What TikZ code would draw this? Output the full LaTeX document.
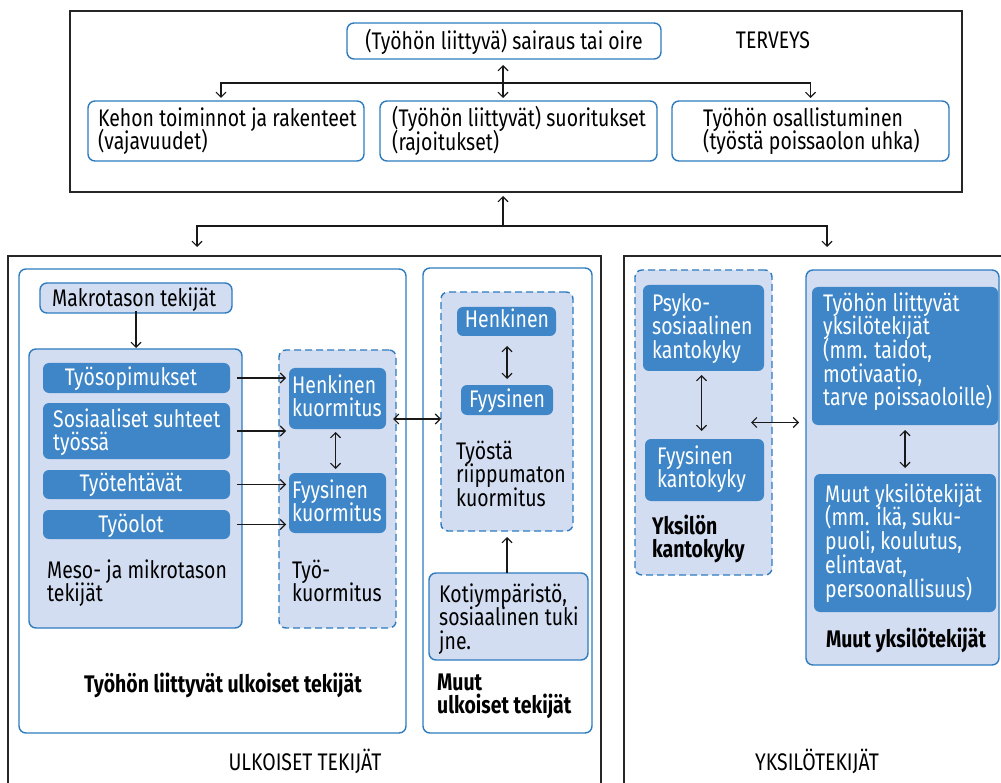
\documentclass[tikz,border=0pt]{standalone}
\usepackage{fontspec}
\setmainfont{Fira Sans}[FakeStretch=0.81]
\usetikzlibrary{arrows.meta}
\definecolor{bblue}{RGB}{47,123,192}
\definecolor{dblue}{RGB}{62,134,200}
\definecolor{lblue}{RGB}{211,221,241}
\newcommand\tf{\fontsize{24}{23.7}\selectfont\lineskiplimit=-100pt\lineskip=0pt}
\newcommand\fs{\rule{0pt}{20pt}}
\newcommand\mkbox[6]{\node[#1, minimum width=#5pt-#3pt, minimum height=#6pt-#4pt] (#2) at (#3,#4) {};}
\newcommand\mktext[5][]{\node[tl,#1] (#2) at (#3,#4-20) {\fs #5};}
\tikzset{
 bx/.style={anchor=north west, inner sep=0pt, outer sep=0pt},
 outerbox/.style={bx, draw=black!85, line width=1.3pt},
 wbox/.style={bx, draw=bblue, fill=white, line width=1.4pt, rounded corners=7pt},
 lbox/.style={bx, draw=bblue, fill=lblue, line width=1.4pt, rounded corners=7pt},
 dbox/.style={bx, fill=dblue, rounded corners=6pt},
 dashbox/.style={bx, draw=bblue, fill=lblue, line width=1.4pt, rounded corners=7pt, dash pattern=on 7pt off 4pt},
 tl/.style={inner sep=0pt, font=\tf, align=left, anchor=north west},
 tc/.style={inner sep=0pt, font=\tf, anchor=base},
 arr/.style={-{Straight Barb[length=5pt,width=10pt]}, line width=1.1pt, draw=black!90},
 dbl/.style={{Straight Barb[length=5pt,width=10pt]}-{Straight Barb[length=5pt,width=10pt]}, line width=1.1pt, draw=black!90},
}
\begin{document}
\begin{tikzpicture}[x=1pt,y=-1pt]
\useasboundingbox[fill=white] (0,0) rectangle (1001,783);
% TERVEYS
\mkbox{outerbox}{terv}{70}{11}{962}{192}
\mkbox{wbox}{sair}{347}{23}{661}{59}
\node[tc] (sairt) at (504,50) {(Työhön liittyvä) sairaus tai oire};
\node[tc] (tervt) at (773,49) {TERVEYS};
\mkbox{wbox}{kehon}{88}{101}{364}{161}
\mkbox{wbox}{suor}{380}{101}{657}{161}
\mkbox{wbox}{osall}{672}{101}{949}{161}
\mktext{kehont}{98}{126}{Kehon toiminnot ja rakenteet\\(vajavuudet)}
\mktext{suort}{392}{126}{(Työhön liittyvät) suoritukset\\(rajoitukset)}
\mktext{osallt}{703}{126}{Työhön osallistuminen\\(työstä poissaolon uhka)}
\coordinate (j1) at (503,83);
\draw[arr, shorten >=3pt] (j1) -| ([xshift=-5pt]kehon.north);
\draw[arr, shorten >=3pt] (j1) -| (osall.north);
\draw[dbl, shorten <=6pt, shorten >=3pt] (sair.south -| j1) -- (suor.north -| j1);
% big boxes
\mkbox{outerbox}{ulk}{8}{256}{601}{900}
\mkbox{outerbox}{yks}{624}{256}{1030}{900}
\coordinate (j2) at (503,226);
\coordinate (aL) at (197,247);
\coordinate (aR) at (827,247);
\draw[arr, shorten >=4pt] (j2) -- (j2 |- terv.south);
\draw[arr] (j2) -| (aL);
\draw[arr] (j2) -| (aR);
% left: work-related external
\mkbox{wbox}{tlu}{19}{269}{406}{733}
\mkbox{wbox}{muu}{423}{268}{592}{733}
\mkbox{lbox}{makro}{40}{283}{232}{313}
\node[tc, anchor=base west] (makrot) at (52,307) {Makrotason tekijät};
\mkbox{lbox}{meso}{29}{349}{242}{628}
\mkbox{dbox}{tsop}{43}{363}{230}{393}
\mkbox{dbox}{sos}{43}{403}{230}{459}
\mkbox{dbox}{teht}{43}{470}{230}{499}
\mkbox{dbox}{olot}{43}{510}{230}{539}
\node[tc, text=white] (tsopt) at (131,385) {Työsopimukset};
\mktext[text=white]{sost}{53}{427}{Sosiaaliset suhteet\\työssä}
\node[tc, text=white] (tehtt) at (131,491) {Työtehtävät};
\node[tc, text=white] (olott) at (131,532) {Työolot};
\mktext{mesot}{47}{578}{Meso- ja mikrotason\\tekijät}
\mkbox{dashbox}{tk}{279}{350}{396}{628}
\mkbox{dbox}{henk}{289}{368}{386}{429}
\mkbox{dbox}{fyys}{289}{473}{386}{533}
\mktext[text=white]{henkt}{292}{393}{Henkinen\\kuormitus}
\mktext[text=white]{fyyst}{292}{498}{Fyysinen\\kuormitus}
\mktext{tkt}{292}{578}{Työ-\\kuormitus}
\node[tc, font=\tf\bfseries] (tlut) at (223,692) {Työhön liittyvät ulkoiset tekijät};
\draw[arr, shorten >=1pt] ([yshift=2pt]makro.south) -- (makro.south |- meso.north);
\foreach \n in {tsop,sos,teht,olot}
  \draw[arr, shorten <=7pt, shorten >=3pt] (\n.east) -- (\n.east -| henk.west);
\draw[dbl, shorten <=3pt, shorten >=4pt] ([xshift=-2pt]henk.south) -- ([xshift=-2pt]fyys.north);
% middle: other external
\mkbox{dashbox}{tr}{441}{292}{573}{531}
\mkbox{dbox}{henks}{457}{307}{556}{336}
\mkbox{dbox}{fyyss}{461}{385}{553}{415}
\node[tc, text=white] (henkst) at (507,328) {Henkinen};
\node[tc, text=white] (fyysst) at (507,407) {Fyysinen};
\mktext{trt}{456}{459}{Työstä\\riippumaton\\kuormitus}
\mkbox{lbox}{koti}{429}{573}{588}{660}
\mktext{kotit}{439}{602}{Kotiympäristö,\\sosiaalinen tuki\\jne.}
\mktext[font=\tf\bfseries]{muut}{437}{690}{Muut\\ulkoiset tekijät}
\coordinate (c419) at (0,419);
\draw[dbl, shorten <=-3pt, shorten >=0pt] (tk.east |- c419) -- (tr.west |- c419);
\draw[dbl, shorten <=10pt, shorten >=6pt] (henks.south -| fyyss.north) -- (fyyss.north);
\draw[arr, shorten >=6pt] (koti.north -| fyyss.north) -- (tr.south -| fyyss.north);
\node[tc] (ulkt) at (305,770) {ULKOISET TEKIJÄT};
% right: individual factors
\mkbox{dashbox}{yk}{635}{270}{772}{575}
\mkbox{dbox}{psy}{643}{285}{764}{371}
\mkbox{dbox}{fk}{645}{439}{764}{501}
\mktext[text=white]{psyt}{652}{311}{Psyko-\\sosiaalinen\\kantokyky}
\mktext[text=white]{fkt}{657}{464}{Fyysinen\\kantokyky}
\mktext[font=\tf\bfseries]{ykt}{652}{534}{Yksilön\\kantokyky}
\mkbox{lbox}{muuo}{806}{270}{999}{665}
\mkbox{dbox}{tly}{812}{287}{998}{425}
\mkbox{dbox}{muy}{814}{474}{996}{612}
\mktext[text=white]{tlyt}{823}{311}{Työhön liittyvät\\yksilötekijät\\(mm. taidot,\\motivaatio,\\tarve poissaoloille)}
\mktext[text=white]{muyt}{825}{502}{Muut yksilötekijät\\(mm. ikä, suku-\\puoli, koulutus,\\elintavat,\\persoonallisuus)}
\node[tc, font=\tf\bfseries] (muuot) at (906,647) {Muut yksilötekijät};
\node[tc] (ykst) at (817,770) {YKSILÖTEKIJÄT};
\draw[dbl, shorten <=4pt, shorten >=8pt] ([xshift=-2pt]psy.south) -- ([xshift=-2pt]psy.south |- fk.north);
\draw[dbl, shorten >=7pt] ([xshift=-21pt]yk.east) -- (yk.east -| muuo.west);
\draw[dbl, shorten <=5pt, shorten >=6pt] (tly.south) -- (tly.south |- muy.north);
\end{tikzpicture}
\end{document}
